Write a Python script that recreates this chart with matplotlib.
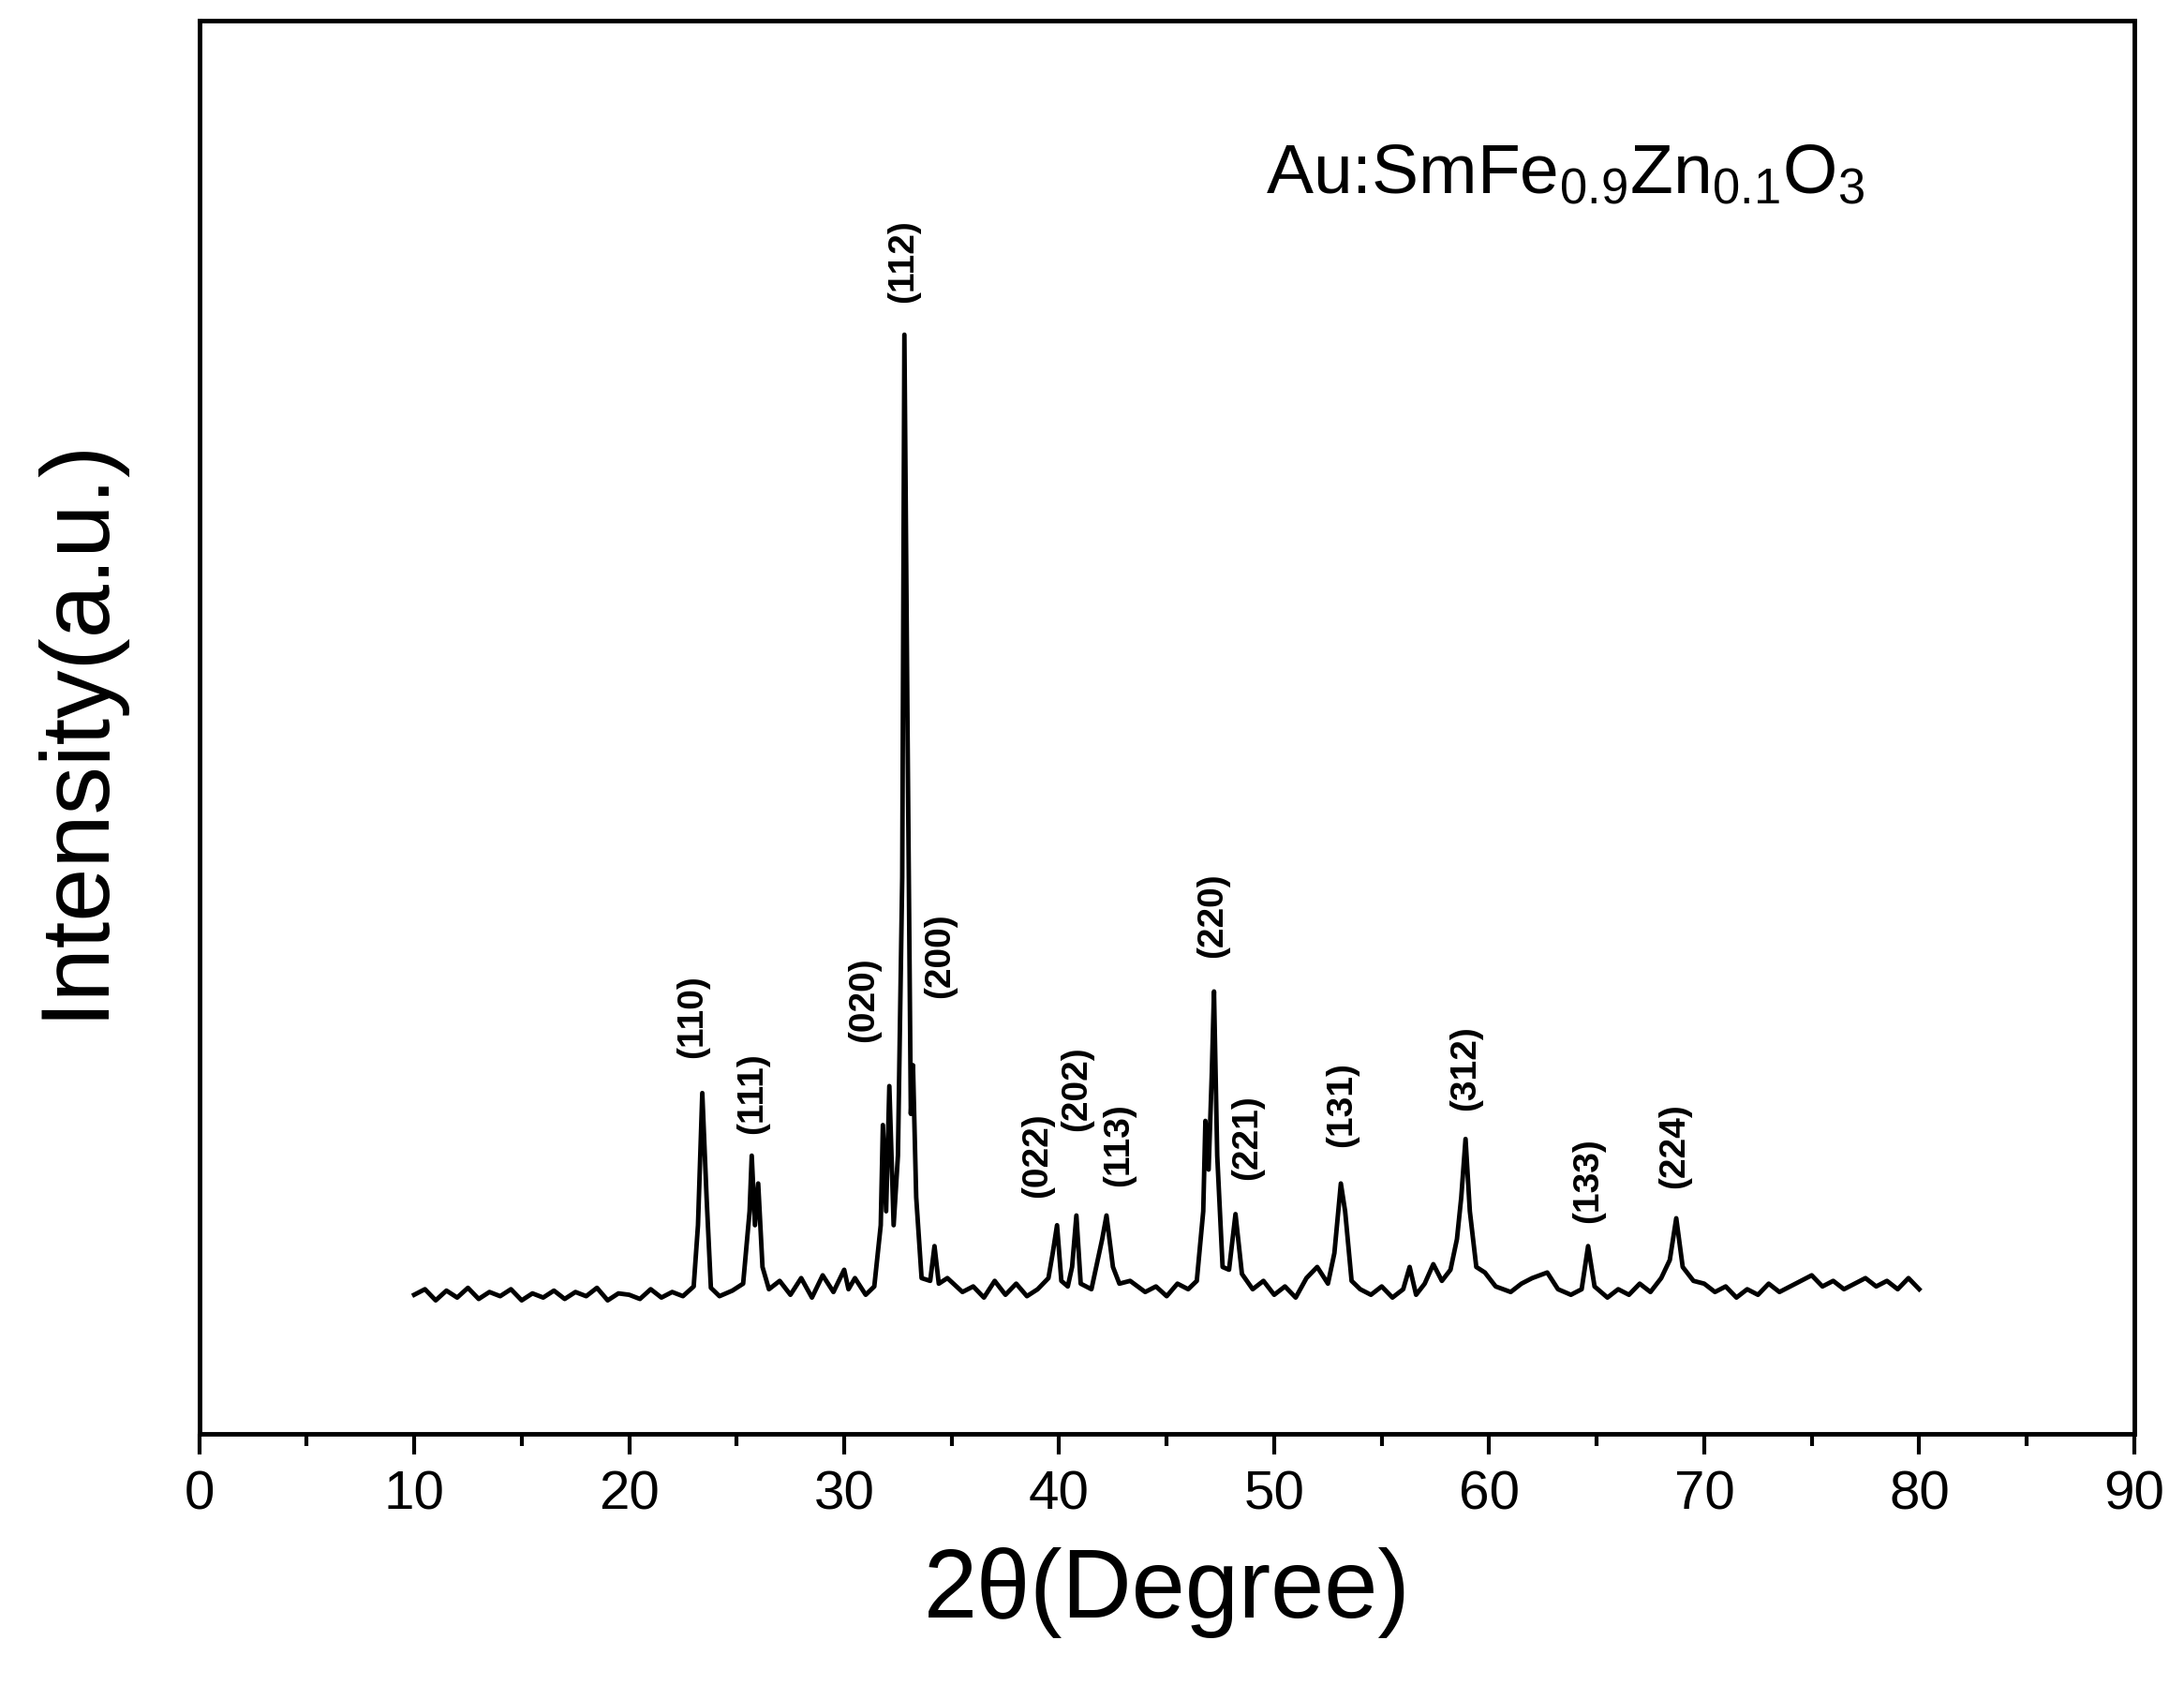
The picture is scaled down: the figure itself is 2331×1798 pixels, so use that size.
import matplotlib
matplotlib.use("Agg")
import matplotlib.pyplot as plt
from matplotlib.ticker import MultipleLocator

plt.rcParams['font.family'] = ['Liberation Sans', 'DejaVu Sans']
plt.rcParams['mathtext.fontset'] = 'custom'
plt.rcParams['mathtext.rm'] = 'Liberation Sans'
plt.rcParams['mathtext.it'] = 'Liberation Sans'

# XRD pattern points (2theta, intensity a.u.)
two_theta = [10.0,10.5,11.0,11.5,12.0,12.5,13.0,13.5,14.0,14.5,15.0,15.5,16.0,16.5,17.0,17.5,18.0,18.5,19.0,19.5,
             20.0,20.5,21.0,21.5,22.0,22.5,23.0,23.2,23.4,23.6,23.8,24.2,24.8,25.3,25.6,25.7,25.85,26.0,26.2,26.5,
             27.0,27.5,28.0,28.5,29.0,29.5,30.0,30.2,30.5,31.0,31.4,31.7,31.8,31.95,32.1,32.3,32.5,32.7,32.8,32.95,
             33.1,33.2,33.35,33.6,34.0,34.2,34.4,34.8,35.5,36.0,36.5,37.0,37.5,38.0,38.5,39.0,39.5,39.7,39.9,40.1,
             40.4,40.6,40.8,41.0,41.5,42.0,42.2,42.5,42.8,43.3,44.0,44.5,45.0,45.5,46.0,46.4,46.7,46.8,46.95,47.1,
             47.2,47.35,47.6,47.9,48.2,48.5,49.0,49.5,50.0,50.5,51.0,51.5,52.0,52.5,52.8,53.1,53.3,53.6,54.0,54.5,
             55.0,55.5,56.0,56.3,56.6,57.0,57.4,57.8,58.2,58.5,58.7,58.9,59.1,59.4,59.8,60.3,61.0,61.5,62.0,62.7,
             63.2,63.8,64.3,64.6,64.9,65.5,66.0,66.5,67.0,67.5,68.0,68.4,68.7,69.0,69.5,70.0,70.5,71.0,71.5,72.0,
             72.5,73.0,73.5,74.0,74.5,75.0,75.5,76.0,76.5,77.0,77.5,78.0,78.5,79.0,79.5,80.0]
intensity = [100,104,96,103,98,105,97,102,99,104,96,101,98,103,97,102,99,105,96,101,
             100,97,104,98,102,99,106,150,245,170,105,99,103,108,160,200,150,180,120,104,
             110,100,112,98,114,102,118,104,112,100,106,150,222,160,250,150,200,400,790,500,
             230,265,170,112,110,135,108,112,102,106,98,110,100,108,99,104,112,130,150,110,
             106,120,157,108,104,140,157,120,108,110,102,106,99,108,104,110,160,225,190,260,
             318,200,120,118,158,115,104,110,100,106,98,112,120,108,130,180,160,110,104,100,
             106,98,104,120,100,108,122,110,118,140,170,212,160,120,116,106,102,108,112,116,
             104,100,104,135,106,98,104,100,108,102,112,125,155,120,110,108,102,106,98,104,
             100,108,102,106,110,114,106,110,104,108,112,106,110,104,112,104]

peak_labels = ["(110)","(111)","(020)","(112)","(200)","(022)","(202)","(113)",
               "(220)","(221)","(131)","(312)","(133)","(224)"]
label_x = [22.95,25.73,30.91,32.73,34.47,39.0,40.83,42.77,47.13,48.73,53.14,58.9,64.6,68.63]
label_y = [300,245,312,843,344,200,248,208,373,213,237,263,182,207]

fig = plt.figure(figsize=(23.31,17.98), dpi=100)
ax = fig.add_axes([0.0912,0.149,0.886,0.839])
ax.plot(two_theta, intensity, color='black', lw=3.5)
for t,x,y in zip(peak_labels,label_x,label_y):
    ax.text(x,y,t,rotation=90,ha='center',va='center',fontsize=28,fontweight='bold')
ax.text(49.6,905,r'Au:SmFe$_{0.9}$Zn$_{0.1}$O$_3$',fontsize=54,ha='left',va='center')
ax.set_xlim(0,90)
ax.set_ylim(0,1016)
ax.xaxis.set_major_locator(MultipleLocator(10))
ax.xaxis.set_minor_locator(MultipleLocator(5))
ax.set_yticks([])
ax.tick_params(axis='x',which='major',direction='out',length=16,width=3,labelsize=42,pad=12)
ax.tick_params(axis='x',which='minor',direction='out',length=9,width=3)
for s in ax.spines.values():
    s.set_linewidth(3.5)
ax.set_xlabel('2θ(Degree)',fontsize=74,labelpad=20)
ax.set_ylabel('Intensity(a.u.)',fontsize=74,labelpad=60)
fig.savefig('out.png',dpi=100)
